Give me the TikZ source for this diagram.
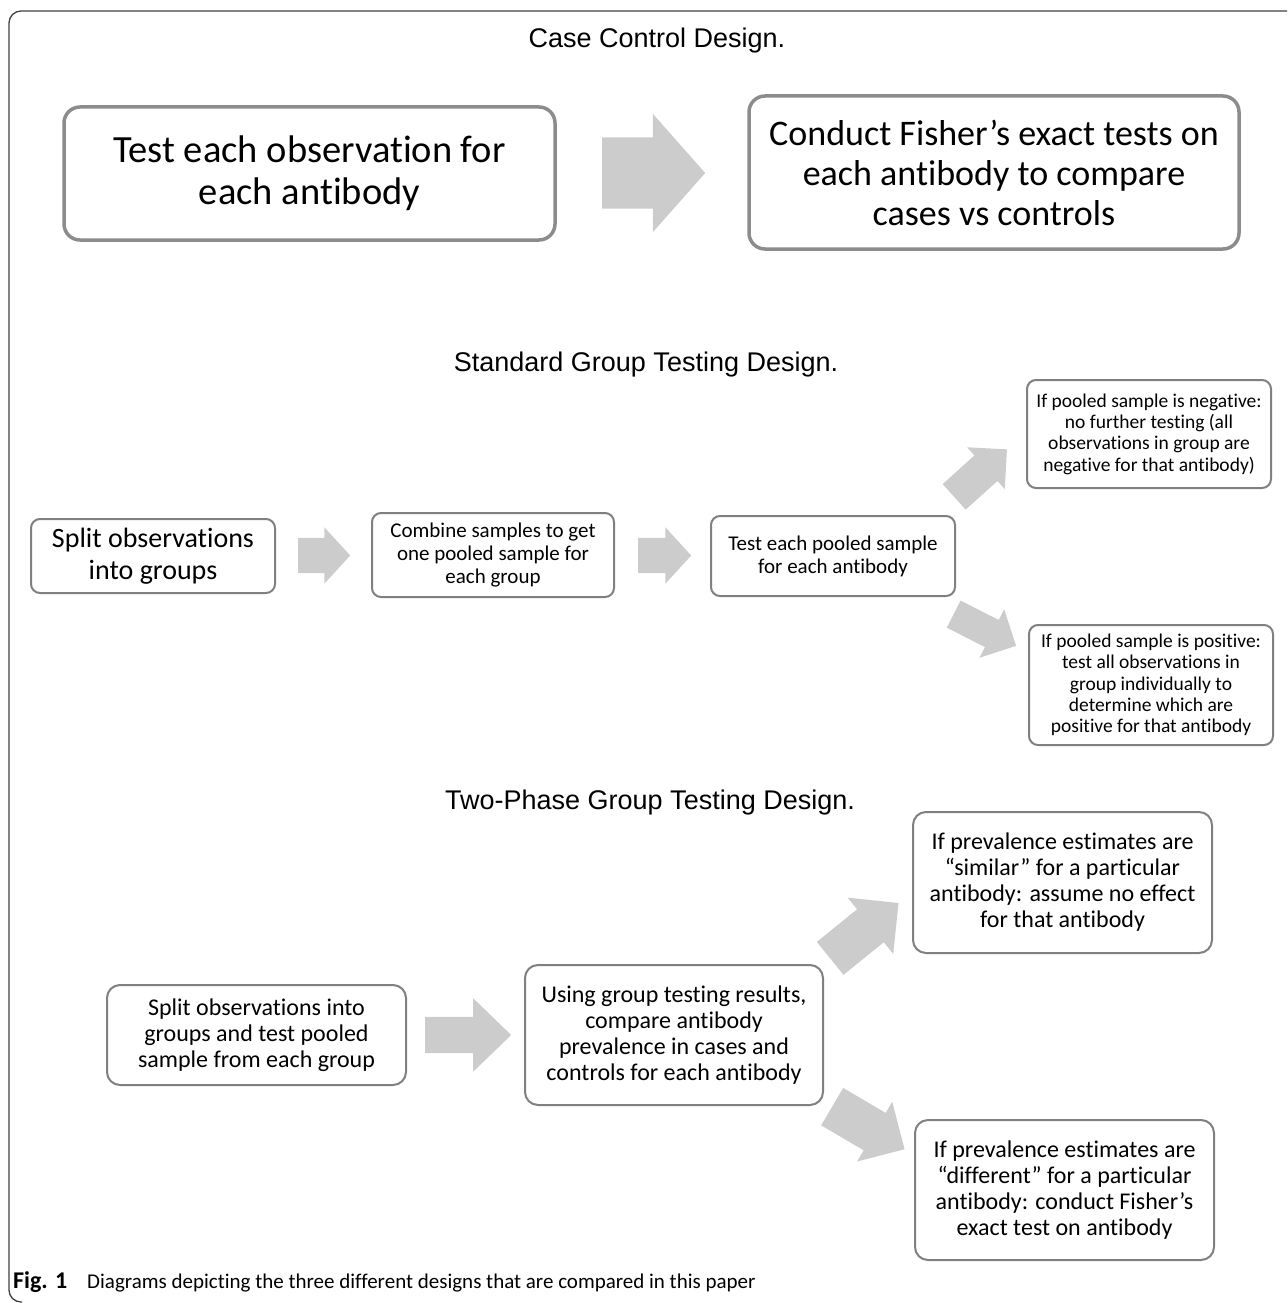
\documentclass[tikz,border=0pt]{standalone}
\usepackage{fontspec}
\setmainfont{Carlito}[Ligatures=NoCommon]
\newfontfamily\headfont{Liberation Sans}
\usetikzlibrary{shapes.arrows}

\begin{document}
\begin{tikzpicture}[x=1pt, y=-1pt,
    bigbox/.style={draw=gray!90, line width=3.5pt, rounded corners=16pt, fill=white, align=center, inner sep=0pt},
    stdbox/.style={draw=gray, line width=2pt, rounded corners=9pt, fill=white, align=center, inner sep=0pt},
    twobox/.style={draw=gray, line width=2pt, rounded corners=13pt, fill=white, align=center, inner sep=0pt, font=\fontsize{24}{26}\selectfont},
    blockarrow/.style={single arrow, fill=gray!40, draw=none, inner xsep=0pt, anchor=tail, single arrow tip angle=95},
    heading/.style={font=\headfont\fontsize{27}{32}\selectfont, anchor=base}]
    \useasboundingbox (0,0) rectangle (1287,1303);
    \clip (0,0) rectangle (1287,1303);

    % Frame
    \draw[line width=1.3pt, black!75, rounded corners=12pt] (1300,11) -| (9,1302) -- (22,1302);

    % Case control design
    \node[heading] (cctitle) at (657,48) {Case Control Design.};
    \node[bigbox, minimum width=491pt, minimum height=133pt, font=\fontsize{38.5}{42}\selectfont] (cc1) at (309.5,173.5) {Test each observation for\\each antibody};
    \node[bigbox, minimum width=490pt, minimum height=153pt, font=\fontsize{36}{40}\selectfont] (cc2) at (994,172.5) {Conduct Fisher’s exact tests on\\each antibody to compare\\cases vs controls};
    \node[blockarrow, minimum height=103pt, minimum width=118pt, inner ysep=35.5pt, single arrow head extend=23.5pt, single arrow tip angle=97] (ccarrow) at (602,173) {};

    % Standard group testing design
    \node[heading] (sgtitle) at (646,371) {Standard Group Testing Design.};
    \node[stdbox, minimum width=244pt, minimum height=74pt, font=\fontsize{28}{32}\selectfont] (sg1) at (153,556) {Split observations\\into groups};
    \node[stdbox, minimum width=242pt, minimum height=84pt, font=\fontsize{21}{23}\selectfont] (sg2) at (493,555) {Combine samples to get\\one pooled sample for\\each group};
    \node[stdbox, minimum width=244pt, minimum height=80pt, font=\fontsize{21}{23}\selectfont] (sg3) at (833,556) {Test each pooled sample\\for each antibody};
    \node[stdbox, minimum width=244pt, minimum height=108pt, font=\fontsize{19.5}{21.3}\selectfont] (sgneg) at (1149,434) {If pooled sample is negative:\\no further testing (all\\observations in group are\\negative for that antibody)};
    \node[stdbox, minimum width=244pt, minimum height=120pt, font=\fontsize{19.5}{21.3}\selectfont] (sgpos) at (1151,685) {If pooled sample is positive:\\test all observations in\\group individually to\\determine which are\\positive for that antibody};
    \node[blockarrow, minimum height=52pt, minimum width=56pt, inner ysep=17.5pt, single arrow head extend=10.5pt] (sgarrow1) at (298,555.5) {};
    \node[blockarrow, minimum height=53pt, minimum width=56pt, inner ysep=17.5pt, single arrow head extend=10.5pt] (sgarrow2) at (638,555.5) {};
    \node[blockarrow, minimum height=71pt, minimum width=56pt, inner ysep=17pt, single arrow head extend=11pt, single arrow tip angle=90, rotate=42] (sgarrowneg) at (954,497) {};
    \node[blockarrow, minimum height=70pt, minimum width=54pt, inner ysep=15pt, single arrow head extend=12pt, single arrow tip angle=90, rotate=-27] (sgarrowpos) at (953.5,614) {};

    % Two-phase group testing design
    \node[heading] (tptitle) at (650,809) {Two-Phase Group Testing Design.};
    \node[twobox, minimum width=299pt, minimum height=100pt] (tp1) at (256.5,1035) {Split observations into\\groups and test pooled\\sample from each group};
    \node[twobox, minimum width=298pt, minimum height=140pt] (tp2) at (674,1035) {Using group testing results,\\compare antibody\\prevalence in cases and\\controls for each antibody};
    \node[twobox, minimum width=299pt, minimum height=141pt] (tpsim) at (1062.5,882.5) {If prevalence estimates are\\“similar” for a particular\\antibody: assume no effect\\for that antibody};
    \node[twobox, minimum width=299pt, minimum height=140pt] (tpdiff) at (1064.5,1190) {If prevalence estimates are\\“different” for a particular\\antibody: conduct Fisher’s\\exact test on antibody};
    \node[blockarrow, minimum height=86pt, minimum width=73pt, inner ysep=18pt, single arrow head extend=18.5pt, single arrow tip angle=88] (tparrow) at (425,1035) {};
    \node[blockarrow, minimum height=88pt, minimum width=72pt, inner ysep=21pt, single arrow head extend=15pt, single arrow tip angle=90, rotate=39] (tparrowsim) at (830,958.5) {};
    \node[blockarrow, minimum height=84pt, minimum width=69pt, inner ysep=21.5pt, single arrow head extend=13pt, single arrow tip angle=90, rotate=-30.5] (tparrowdiff) at (832,1106.5) {};

    % Caption
    \node[anchor=base west, font=\fontsize{21}{24}\selectfont, inner sep=0pt] (caption) at (13,1288) {\textbf{\fontsize{24}{24}\selectfont Fig. 1}\hspace{0.95em}Diagrams depicting the three different designs that are compared in this paper};
\end{tikzpicture}
\end{document}
